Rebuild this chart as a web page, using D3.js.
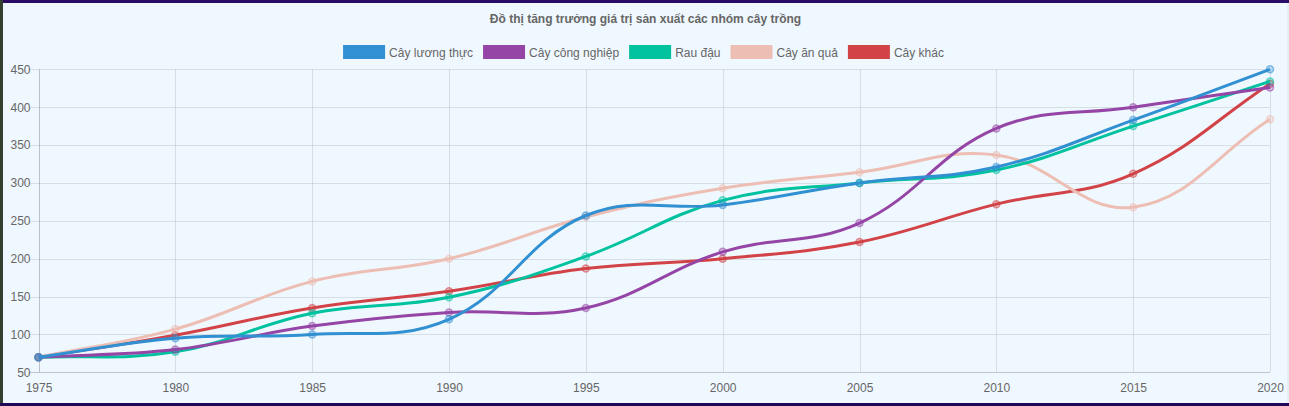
<!DOCTYPE html>
<html>
<head>
<meta charset="utf-8">
<script src="https://cdn.jsdelivr.net/npm/d3@7/dist/d3.min.js"></script>
<style>
  html, body { margin: 0; padding: 0; width: 1289px; height: 406px; overflow: hidden; background: #2a0b66; }
  #leftstrip { position: absolute; left: 0; top: 0; width: 3px; height: 406px; background: #34402f; }
  #bottomstrip { position: absolute; left: 0; top: 403px; width: 1289px; height: 3px; background: #1e0857; }
  #wrap { position: absolute; left: 3px; top: 3px; width: 1284px; height: 400px; background: #f0f8ff; }
  #rightstrip { position: absolute; left: 1287px; top: 3px; width: 2px; height: 400px; background: #e6edf4; }
  svg { position: absolute; left: 0; top: 0; }
  text { font-family: "Liberation Sans", Arial, Helvetica, sans-serif; }
</style>
</head>
<body>
<div id="leftstrip"></div>
<div id="wrap"></div>
<div id="rightstrip"></div>
<div id="bottomstrip"></div>
<svg id="chart" width="1289" height="406"></svg>
<script>
const years = ["1975","1980","1985","1990","1995","2000","2005","2010","2015","2020"];
const seriesNames = ["Cây lương thực","Cây công nghiệp","Rau đậu","Cây ăn quả","Cây khác"];
const luongThuc = [70, 95, 100, 120, 257, 271, 300, 321, 383, 450];
const congNghiep = [70, 80, 111, 129, 135, 209, 247, 372, 400, 426];
const rauDau = [70, 77, 128, 149, 203, 277, 300, 317, 375, 434];
const anQua = [70, 107, 170, 200, 255, 293, 314, 337, 268, 384];
const khac = [70, 99, 135, 157, 187, 200, 222, 272, 312, 431];
const seriesColors = ["#3190d2", "#9545a5", "#00c29f", "#edbeb3", "#d24347"];
const yTicks = [50, 100, 150, 200, 250, 300, 350, 400, 450];
const titleText = "Đồ thị tăng trưởng giá trị sản xuất các nhóm cây trồng";

(function () {
const seriesValues = [luongThuc, congNghiep, rauDau, anQua, khac];

const svg = d3.select("#chart");
const pLeft = 38.5, pRight = 1270, pTop = 69.3, pBottom = 372.3;

const x = d3.scalePoint().domain(years).range([pLeft, pRight]);
const y = d3.scaleLinear().domain([50, 450]).range([pBottom, pTop]);

const gridColor = "rgba(0,0,0,0.1)";
const labelColor = "#666";

// horizontal grid
const yAxis = d3.axisLeft(y).tickValues(yTicks).tickSize(0).tickPadding(8);
const gy = svg.append("g").attr("transform", `translate(${pLeft},0)`).call(yAxis);
gy.select(".domain").remove();
gy.selectAll(".tick text").attr("fill", labelColor).attr("font-size", 12).attr("font-family", null);
svg.append("g").selectAll("line").data(yTicks).join("line")
  .attr("x1", pLeft - 9).attr("x2", pRight)
  .attr("y1", d => Math.round(y(d)) + 0.5).attr("y2", d => Math.round(y(d)) + 0.5)
  .attr("stroke", d => d === 50 ? "rgba(0,0,0,0.2)" : gridColor).attr("stroke-width", 1);

// vertical grid
const xAxis = d3.axisBottom(x).tickSize(0).tickPadding(11);
const gx = svg.append("g").attr("transform", `translate(0,${pBottom})`).call(xAxis);
gx.select(".domain").remove();
gx.selectAll(".tick text").attr("fill", labelColor).attr("font-size", 12).attr("font-family", null);
svg.append("g").selectAll("line").data(years).join("line")
  .attr("x1", d => Math.round(x(d)) + 0.5).attr("x2", d => Math.round(x(d)) + 0.5)
  .attr("y1", pTop).attr("y2", pBottom)
  .attr("stroke", (d, i) => i === 0 ? "rgba(0,0,0,0.22)" : gridColor).attr("stroke-width", 1);

// Chart.js-style spline curve
function ChartJsCurve(context) { this._context = context; }
ChartJsCurve.prototype = {
  areaStart() {}, areaEnd() {},
  lineStart() { this._pts = []; },
  point(px, py) { this._pts.push([+px, +py]); },
  lineEnd() {
    const p = this._pts, t = 0.4, n = p.length, ctx = this._context;
    const clampY = v => Math.max(pTop, Math.min(pBottom, v));
    const cp = p.map((cur, i) => {
      const prev = i > 0 ? p[i - 1] : cur;
      const next = i < n - 1 ? p[i + 1] : cur;
      const d01 = Math.hypot(cur[0] - prev[0], cur[1] - prev[1]);
      const d12 = Math.hypot(next[0] - cur[0], next[1] - cur[1]);
      let s01 = d01 / (d01 + d12), s12 = d12 / (d01 + d12);
      if (isNaN(s01)) s01 = 0;
      if (isNaN(s12)) s12 = 0;
      const fa = t * s01, fb = t * s12;
      return {
        prev: [cur[0] - fa * (next[0] - prev[0]), clampY(cur[1] - fa * (next[1] - prev[1]))],
        next: [cur[0] + fb * (next[0] - prev[0]), clampY(cur[1] + fb * (next[1] - prev[1]))]
      };
    });
    ctx.moveTo(p[0][0], p[0][1]);
    for (let i = 1; i < n; i++) {
      ctx.bezierCurveTo(cp[i - 1].next[0], cp[i - 1].next[1], cp[i].prev[0], cp[i].prev[1], p[i][0], p[i][1]);
    }
  }
};
const chartJsCurve = ctx => new ChartJsCurve(ctx);

const line = d3.line().x((d, i) => x(years[i])).y(d => y(d)).curve(chartJsCurve);

// draw datasets in reverse so first is on top
const order = d3.range(seriesValues.length).reverse();
order.forEach(si => {
  const g = svg.append("g");
  g.append("path").datum(seriesValues[si])
    .attr("d", line).attr("fill", "none")
    .attr("stroke", seriesColors[si]).attr("stroke-width", 3)
    .attr("stroke-linejoin", "round");
  g.selectAll("circle").data(seriesValues[si]).join("circle")
    .attr("cx", (d, i) => x(years[i])).attr("cy", d => y(d)).attr("r", 3.5)
    .attr("fill", seriesColors[si]).attr("fill-opacity", 0.3)
    .attr("stroke", seriesColors[si]).attr("stroke-opacity", 0.55).attr("stroke-width", 1.5);
});

// title
svg.append("text").attr("x", 645.5).attr("y", 23).attr("text-anchor", "middle")
  .attr("font-size", 12).attr("font-weight", "bold").attr("fill", labelColor).text(titleText);

// legend
const legendG = svg.append("g");
const items = seriesNames.map((name, i) => ({ name, color: seriesColors[i] }));
const tmp = svg.append("text").attr("font-size", 12);
const widths = items.map(it => { tmp.text(it.name); return tmp.node().getComputedTextLength(); });
tmp.remove();
const boxW = 40, gap = 10, textPad = 6;
const itemW = widths.map(w => boxW + textPad + w);
const total = d3.sum(itemW) + gap * (items.length - 1);
let cx = 643.5 - total / 2;
items.forEach((it, i) => {
  legendG.append("rect").attr("x", cx + 1).attr("y", 46).attr("width", boxW).attr("height", 12)
    .attr("fill", it.color).attr("stroke", it.color).attr("stroke-width", 2);
  legendG.append("text").attr("x", cx + boxW + textPad).attr("y", 56.5)
    .attr("font-size", 12).attr("fill", labelColor).text(it.name);
  cx += itemW[i] + gap;
});
})();
</script>
</body>
</html>
